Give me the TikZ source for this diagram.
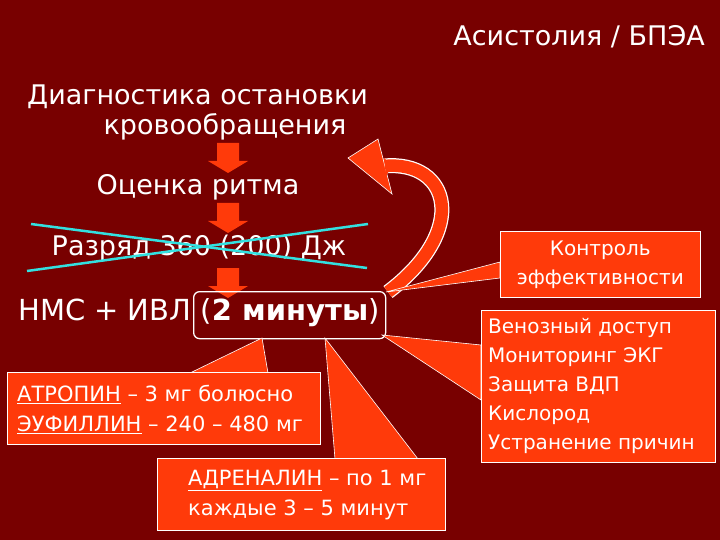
\documentclass[tikz,border=0pt]{standalone}
\usepackage{fontspec}
\setmainfont{DejaVu Sans}
\definecolor{bg}{HTML}{780000}
\definecolor{org}{HTML}{FF3A0A}
\definecolor{cy}{HTML}{33E0E0}
\begin{document}
\begin{tikzpicture}[x=1pt,y=-1pt,
  txt/.style={text=white,inner sep=0pt,font=\fontsize{27}{30}\selectfont},
  small/.style={text=white,inner sep=0pt,font=\fontsize{20}{29}\selectfont,align=left},
  callout/.style={fill=org,draw=white,line width=0.6pt},
  barrow/.style={fill=org,draw=none}]
\useasboundingbox (0,0) rectangle (720,540);
\fill[bg] (0,0) rectangle (720,540);
% title
\node[txt,font=\fontsize{27}{30}\selectfont,anchor=east] (title) at (705,37) {Асистолия / БПЭА};
\node[txt,anchor=west] (d1) at (27,97) {Диагностика остановки};
\node[txt] (d2) at (225,127) {кровообращения};
\node[txt] (o) at (198,187) {Оценка ритма};
\node[txt] (r) at (199,248) {Разряд 360 (200) Дж};
\node[txt,anchor=west,font=\fontsize{29}{30}\selectfont] (n) at (18,313) {НМС + ИВЛ (\textbf{2 минуты})};
% block arrows
\foreach \y/\h in {143/30,203/30,268/30}{
  \fill[barrow] (217,\y) -- (239,\y) -- (239,\y+\h-12) -- (248,\y+\h-12) -- (228,\y+\h) -- (208,\y+\h-12) -- (217,\y+\h-12) -- cycle;}
% strike lines
\coordinate (s1) at (31,224); \coordinate (e1) at (367,268);
\coordinate (s2) at (27,271); \coordinate (e2) at (368,224);
\draw[cy,line width=2.5pt] (s1) -- (e1);
\draw[cy,line width=2.5pt] (s2) -- (e2);
% box around 2 minutes
\node[draw=white,line width=1.3pt,rounded corners=6pt,minimum width=192pt,minimum height=47pt,anchor=north west] (mb) at (193,291) {};
% curved arrow
\draw[white,line width=15pt] (388,292) .. controls (470,230) and (450,160) .. (384,166);
\draw[org,line width=12.5pt] (388,292) .. controls (470,230) and (450,160) .. (384,166);
\fill[org,draw=white,line width=0.6pt] (348,158) -- (378,139) -- (392,194) -- cycle;
\fill[org] (384,158) -- (392,166) -- (386,176) -- cycle;
% callouts
\fill[callout] (500,262) -- (386,292) -- (500,278) -- cycle;
\node[callout,minimum width=200pt,minimum height=66pt,anchor=north west,text=white,font=\fontsize{20}{29}\selectfont,align=center,inner sep=0pt] (k) at (500,231) {Контроль\\эффективности};
\fill[callout] (481,345) -- (382,335) -- (481,400) -- cycle;
\node[callout,minimum width=234pt,minimum height=152pt,anchor=north west,inner sep=0pt] (v) at (481,310) {};
\node[small,anchor=north west] (vt) at (488,318) {Венозный доступ\\Мониторинг ЭКГ\\Защита ВДП\\Кислород\\Устранение причин};
\fill[callout] (190,373) -- (262,338) -- (268,373) -- cycle;
\node[callout,minimum width=313pt,minimum height=72pt,anchor=north west,inner sep=0pt] (a) at (7,372) {};
\node[small,anchor=west,font=\fontsize{21}{30}\selectfont] (at) at (17,409) {\underline{АТРОПИН} – 3 мг болюсно\\\underline{ЭУФИЛЛИН} – 240 – 480 мг};
\fill[callout] (335,459) -- (325,338) -- (418,459) -- cycle;
\node[callout,minimum width=288pt,minimum height=72pt,anchor=north west,inner sep=0pt] (ad) at (157,458) {};
\node[small,anchor=west,font=\fontsize{21}{30}\selectfont] (adt) at (188,495) {\underline{АДРЕНАЛИН} – по 1 мг\\каждые 3 – 5 минут};
\end{tikzpicture}
\end{document}
